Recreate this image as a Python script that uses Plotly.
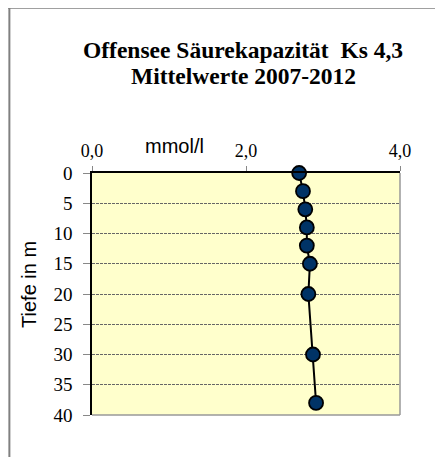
import plotly.graph_objects as go

depth = [0, 3, 6, 9, 12, 15, 20, 30, 38]
ks43 = [2.69, 2.74, 2.77, 2.79, 2.79, 2.83, 2.81, 2.87, 2.91]
x_ticks = [0, 2, 4]
x_ticklabels = ["0,0", "2,0", "4,0"]
y_ticks = [0, 5, 10, 15, 20, 25, 30, 35, 40]

OFF = 8  # browser body margin
W, H = 443 - OFF, 457 - OFF
L, R, T, B = 91.7 - OFF, 400 - OFF, 173.3 - OFF, 415.5 - OFF

fig = go.Figure()
fig.add_trace(go.Scatter(
    x=ks43, y=depth, mode="lines+markers",
    line=dict(color="black", width=2),
    marker=dict(size=14, color="#003366", line=dict(color="black", width=1.8)),
    showlegend=False, cliponaxis=False,
))

def pxx(px):
    return (px - OFF - L) / (R - L)

def pxy(py):
    return (B - (py - OFF)) / (B - T)

shapes = [
    dict(type="line", xref="paper", yref="paper",
         x0=pxx(0), x1=pxx(443), y0=pxy(8), y1=pxy(8),
         line=dict(color="#808080", width=2)),
    dict(type="line", xref="paper", yref="paper",
         x0=pxx(9), x1=pxx(9), y0=pxy(8), y1=pxy(470),
         line=dict(color="#808080", width=2)),
    dict(type="line", xref="paper", yref="paper", x0=1, x1=1, y0=0, y1=1,
         line=dict(color="#999999", width=1.5), layer="above"),
    dict(type="line", xref="paper", yref="paper", x0=0, x1=1, y0=0, y1=0,
         line=dict(color="#999999", width=1.5), layer="above"),
]

serif = "Liberation Serif"
sans = "Liberation Sans"

fig.update_layout(
    width=W, height=H,
    margin=dict(l=L, r=W - R, t=T, b=H - B),
    paper_bgcolor="white",
    plot_bgcolor="#FFFFCC",
    font=dict(family=serif, size=19, color="black"),
    shapes=shapes,
    annotations=[
        dict(text="<b>Offensee Säurekapazität  Ks 4,3</b>",
             xref="paper", yref="paper", x=pxx(243), y=pxy(50),
             xanchor="center", yanchor="middle", showarrow=False,
             font=dict(family=serif, size=23.5, color="black")),
        dict(text="<b>Mittelwerte 2007-2012</b>",
             xref="paper", yref="paper", x=pxx(243), y=pxy(76),
             xanchor="center", yanchor="middle", showarrow=False,
             font=dict(family=serif, size=23.5, color="black")),
        dict(text="mmol/l", xref="paper", yref="paper",
             x=pxx(174), y=pxy(146),
             xanchor="center", yanchor="middle", showarrow=False,
             font=dict(family=sans, size=20, color="black")),
        dict(text="Tiefe in m", xref="paper", yref="paper",
             x=pxx(28), y=pxy(285), textangle=-90,
             xanchor="center", yanchor="middle", showarrow=False,
             font=dict(family=sans, size=20, color="black")),
    ],
    xaxis=dict(
        side="top", range=[0, 4], tickvals=x_ticks, ticktext=x_ticklabels,
        showgrid=False, zeroline=False,
        showline=True, linecolor="black", linewidth=1.5,
        ticks="outside", ticklen=5, tickcolor="#888888",
        ticklabelstandoff=2,
        tickfont=dict(family=serif, size=18, color="black"),
    ),
    yaxis=dict(
        range=[40, 0], tickvals=y_ticks,
        showgrid=True, gridcolor="#666666", griddash="3px,1px", gridwidth=1,
        zeroline=False,
        showline=True, linecolor="black", linewidth=1.5,
        ticks="outside", ticklen=7, tickcolor="#888888",
        ticklabelstandoff=7,
        tickfont=dict(family=serif, size=19, color="black"),
    ),
)

fig.write_html("out.html")
